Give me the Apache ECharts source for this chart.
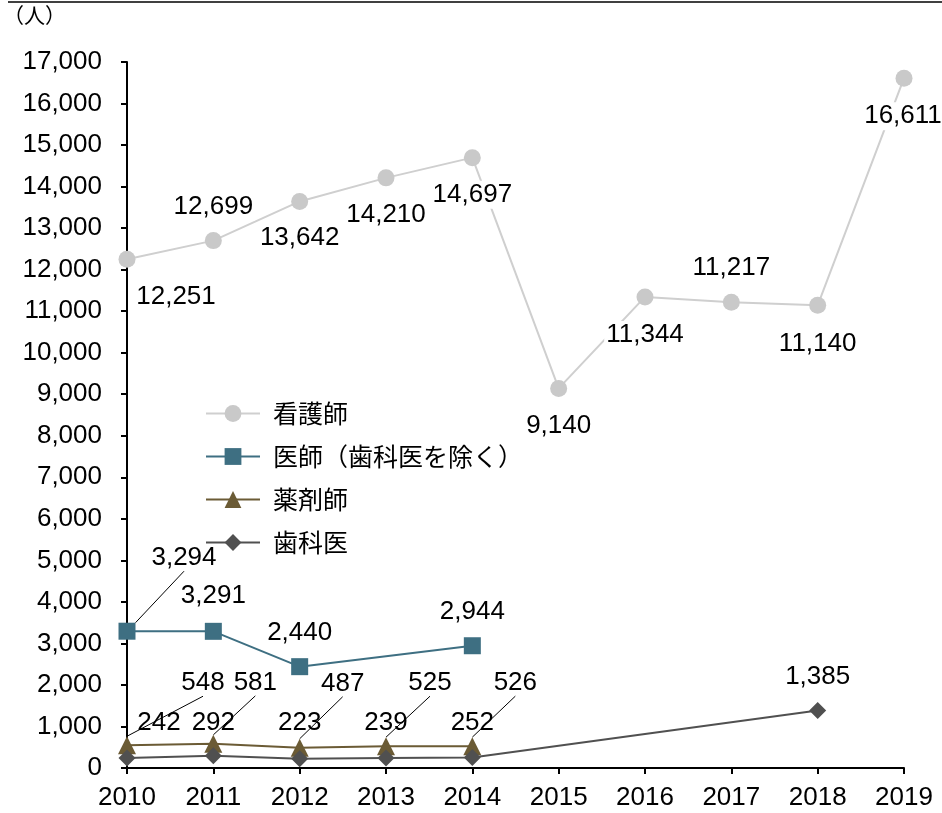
<!DOCTYPE html>
<html>
<head>
<meta charset="utf-8">
<script src="https://cdn.jsdelivr.net/npm/echarts@6/dist/echarts.min.js"></script>
<style>
html,body{margin:0;padding:0;background:#fff;}
#main{width:942px;height:813px;}
</style>
</head>
<body>
<div id="main"></div>
<script>
var years = ['2010','2011','2012','2013','2014','2015','2016','2017','2018','2019'];
var seriesNames = ['看護師','医師（歯科医を除く）','薬剤師','歯科医'];
var nurses = [12251, 12699, 13642, 14210, 14697, 9140, 11344, 11217, 11140, 16611];
var doctors = [3294, 3291, 2440, null, 2944, null, null, null, null, null];
var pharmacists = [548, 581, 487, 525, 526, null, null, null, null, null];
var dentists = [242, 292, 223, 239, 252, null, null, null, 1385, null];
var yTicks = {min: 0, max: 17000, interval: 1000};

// label placement (offset from point, px) and leader-line flags
var nurseOffsets = [[49,38],[0,-34],[0,36],[0,37],[0,37],[0,37],[0,38],[0,-34],[0,38],[-1,38]];
var doctorOffsets = [[57,-73],[0,-35],[0,-34],null,[0,-34]];
var doctorLines = [true,false,false,false,false];
var pharmOffsets = [[76,-62],[42,-61],[43,-64],[44,-63],[43,-63]];
var pharmLines = [true,true,true,true,true];
var dentistOffsets = [[32,-35],[0,-33],[0,-36],[0,-35],[0,-35],null,null,null,[0,-34],null];

var FONT = 'Liberation Sans, Arial, sans-serif';
var CJK = '"Noto Sans CJK JP", sans-serif';
var FS = 26;
function fmt(v){ return Number(v).toLocaleString('en-US'); }

function buildData(values, offsets, lines, bg){
  return values.map(function(v, i){
    if (v == null) return null;
    var off = offsets[i] || [0,0];
    return {
      value: v,
      label: {
        show: true, position: 'inside', offset: off,
        formatter: function(p){ return fmt(p.value); },
        fontSize: FS, fontFamily: FONT, color: '#000',
        backgroundColor: bg ? '#fff' : 'transparent', padding: bg ? [1,2] : 0
      },
      labelLine: {show: !!(lines && lines[i]), lineStyle: {color: '#000', width: 1}}
    };
  });
}

var colors = {
  nurse: '#c9c9c9', nurseLine: '#cfcfcf',
  doctor: '#3e6f82', pharm: '#6b5b35', dentist: '#505050'
};

var chart = echarts.init(document.getElementById('main'), null, {renderer: 'canvas'});
chart.setOption({
  animation: false,
  backgroundColor: '#fff',
  graphic: [
    {type: 'line', shape: {x1: 8, y1: 2, x2: 942, y2: 2}, style: {stroke: '#404040', lineWidth: 2}},
    {type: 'text', left: 3, top: 5, style: {text: '（人）', font: '21px "Noto Sans CJK JP", sans-serif', fill: '#000'}}
  ],
  grid: {left: 127, right: 38, top: 62, bottom: 45, containLabel: false},
  legend: {
    orient: 'vertical', left: 200, top: 396,
    itemWidth: 54, itemHeight: 21, itemGap: 18,
    textStyle: {fontSize: 25, fontFamily: CJK, color: '#000', padding: [0,0,0,8]},
    data: seriesNames
  },
  xAxis: {
    type: 'category', data: years, boundaryGap: false,
    axisLine: {lineStyle: {color: '#000', width: 2}},
    axisTick: {show: true, length: 6, inside: false, lineStyle: {color: '#000', width: 2}},
    axisLabel: {fontSize: FS, fontFamily: FONT, color: '#000', margin: 17}
  },
  yAxis: {
    type: 'value', min: yTicks.min, max: yTicks.max, interval: yTicks.interval,
    axisLine: {show: true, lineStyle: {color: '#000', width: 2}},
    axisTick: {show: true, length: 6, inside: false, lineStyle: {color: '#000', width: 2}},
    splitLine: {show: false},
    axisLabel: {fontSize: FS, fontFamily: FONT, color: '#000', margin: 25, formatter: fmt}
  },
  series: [
    {
      name: seriesNames[0], type: 'line', data: buildData(nurses, nurseOffsets, null, true),
      symbol: 'circle', symbolSize: 17,
      itemStyle: {color: colors.nurse},
      lineStyle: {color: colors.nurseLine, width: 2},
      z: 2
    },
    {
      name: seriesNames[1], type: 'line', data: buildData(doctors, doctorOffsets, doctorLines, false),
      symbol: 'rect', symbolSize: 17, connectNulls: true,
      itemStyle: {color: colors.doctor},
      lineStyle: {color: colors.doctor, width: 2},
      z: 3
    },
    {
      name: seriesNames[2], type: 'line', data: buildData(pharmacists, pharmOffsets, pharmLines, false),
      symbol: 'triangle', symbolSize: 18,
      itemStyle: {color: colors.pharm},
      lineStyle: {color: colors.pharm, width: 2},
      z: 4
    },
    {
      name: seriesNames[3], type: 'line', data: buildData(dentists, dentistOffsets, null, false),
      symbol: 'diamond', symbolSize: 17, connectNulls: true,
      itemStyle: {color: colors.dentist},
      lineStyle: {color: colors.dentist, width: 2},
      z: 5
    }
  ]
});
</script>
</body>
</html>
